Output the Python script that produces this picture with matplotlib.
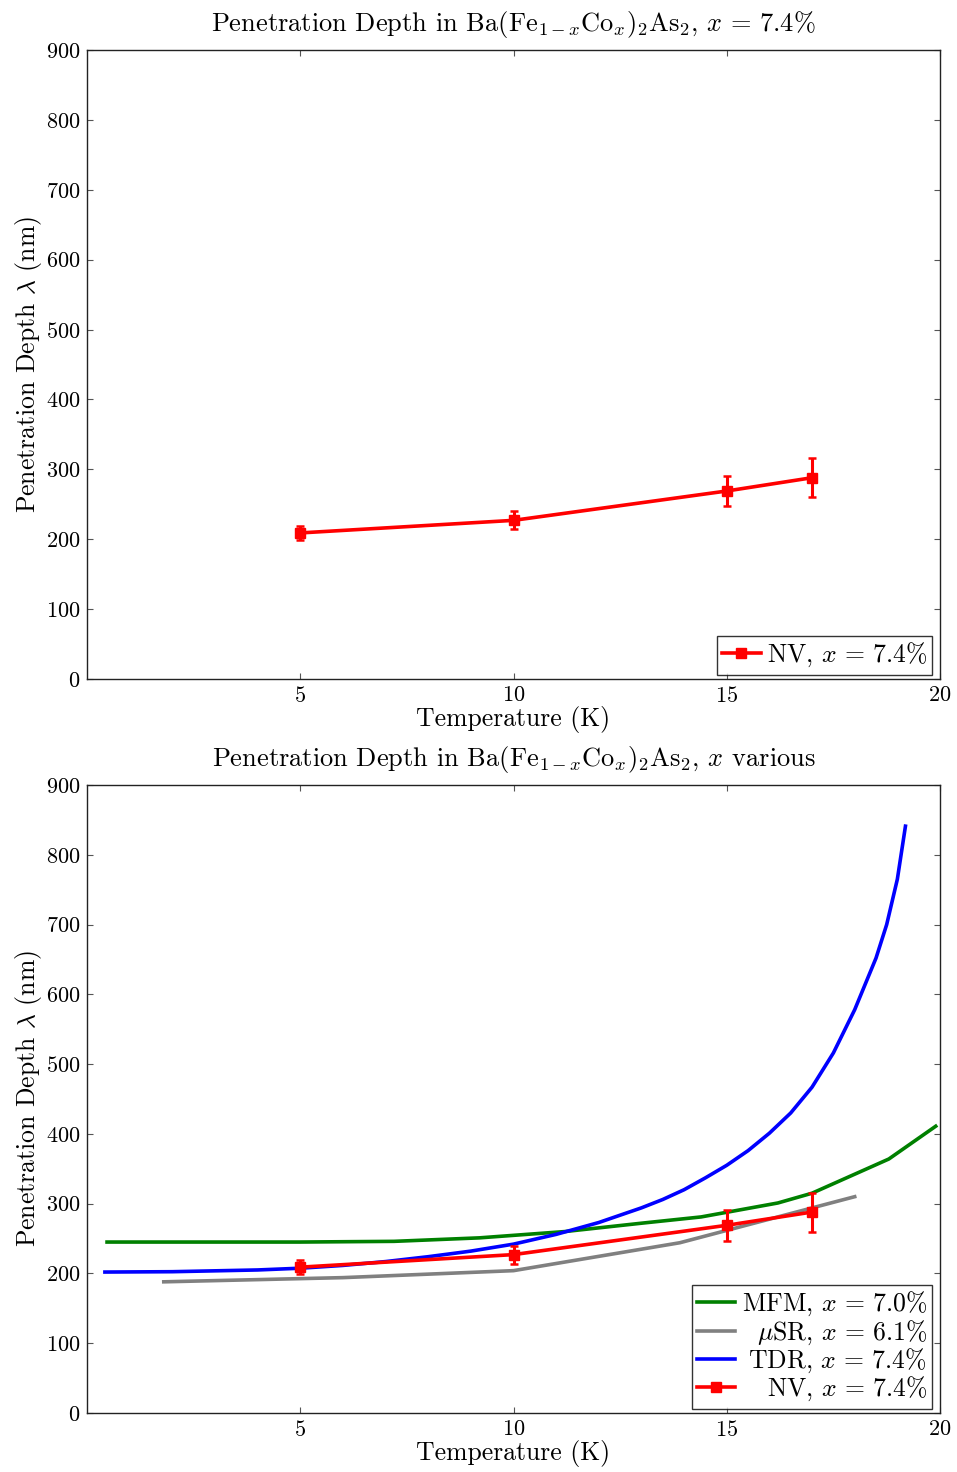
import matplotlib
matplotlib.use("Agg")
import matplotlib.pyplot as plt
from matplotlib.lines import Line2D

plt.rcParams['font.family'] = ['cmr10', 'DejaVu Serif']
plt.rcParams['mathtext.fontset'] = 'cm'
plt.rcParams['axes.formatter.use_mathtext'] = True
plt.rcParams['axes.unicode_minus'] = False

# ---- data ----
nv_T = [5, 10, 15, 17]
nv_lam = [209, 227, 269, 288]
nv_err = [10, 13, 22, 28]

mfm_T = [0.47, 5, 7.2, 9.2, 11.2, 13.0, 14.4, 16.2, 17.0, 18.8, 19.9]
mfm_lam = [245, 245, 246, 251, 260, 272, 281, 301, 315, 364, 411]

musr_T = [1.8, 6, 10.0, 13.9, 18.0]
musr_lam = [188, 194, 204, 244, 310]

tdr_T = [0.42, 2, 4, 5, 6, 7, 8, 9, 10, 11, 12, 13, 13.5, 14, 14.5, 15,
         15.5, 16, 16.5, 17, 17.5, 18, 18.5, 18.75, 19.0, 19.19]
tdr_lam = [202, 202.5, 205, 207.5, 211.5, 217, 224, 232, 242, 256, 273, 294,
           306, 320, 337, 355, 376, 401, 430, 467, 516, 578, 652, 700, 765,
           841]

xticks = [5, 10, 15, 20]
yticks = [0, 100, 200, 300, 400, 500, 600, 700, 800, 900]

eq = r"$x\,=\,%s\%%$"
compound = r"Ba(Fe$_{1-x}$Co$_x$)$_2$As$_2$"
title_top = "Penetration Depth in " + compound + ", " + eq % "7.4"
title_bot = "Penetration Depth in " + compound + r", $x$ various"

lab_mfm = "MFM, " + eq % "7.0"
lab_musr = r"$\mu$SR, " + eq % "6.1"
lab_tdr = "TDR, " + eq % "7.4"
lab_nv = "NV, " + eq % "7.4"

W, H = 957, 1472
fig = plt.figure(figsize=(W / 100, H / 100), dpi=100)
ax1 = fig.add_axes([87 / W, 1 - 679 / H, (940 - 87) / W, (679 - 50) / H])
ax2 = fig.add_axes([87 / W, 1 - 1413 / H, (940 - 87) / W, (1413 - 785) / H])

lw = 2.6
nv_handle = Line2D([], [], color='red', lw=lw, marker='s', markersize=7)


def style(ax, title):
    ax.set_xlim(0, 20)
    ax.set_ylim(0, 900)
    ax.set_xticks(xticks)
    ax.set_yticks(yticks)
    ax.tick_params(direction='in', top=True, right=True, length=4,
                   width=0.8, labelsize=16, pad=5, color='#555555')
    for s in ax.spines.values():
        s.set_linewidth(1.0)
        s.set_color('#222222')
    ax.set_xlabel("Temperature (K)", fontsize=18.5, labelpad=0)
    ax.set_ylabel(r"Penetration Depth $\lambda$ (nm)", fontsize=18.5,
                  labelpad=1)
    ax.set_title(title, fontsize=19, pad=13.5)


def nv(ax):
    ax.errorbar(nv_T, nv_lam, yerr=nv_err, color='red', lw=lw, marker='s',
                markersize=7, elinewidth=2.2, capsize=3, capthick=1.8)


legkw = dict(loc='lower right', bbox_to_anchor=(0.991, 0.007),
             fontsize=18.5, fancybox=False,
             edgecolor='black', borderpad=0.2, handlelength=1.5,
             handletextpad=0.25, borderaxespad=0.0, labelspacing=0.0)

# top
nv(ax1)
style(ax1, title_top)
leg1 = ax1.legend([nv_handle], [lab_nv], **legkw)
leg1.get_frame().set_linewidth(1.0)

# bottom
h1, = ax2.plot(mfm_T, mfm_lam, color='green', lw=lw)
h2, = ax2.plot(musr_T, musr_lam, color='gray', lw=lw)
h3, = ax2.plot(tdr_T, tdr_lam, color='blue', lw=lw)
nv(ax2)
style(ax2, title_bot)
leg2 = ax2.legend([h1, h2, h3, nv_handle],
                  [lab_mfm, lab_musr, lab_tdr, lab_nv], **legkw)
leg2.get_frame().set_linewidth(1.0)

# right-align legend labels
fig.canvas.draw()
r = fig.canvas.get_renderer()
texts = leg2.get_texts()
ws = [t.get_window_extent(r).width for t in texts]
mw = max(ws)
for t, w in zip(texts, ws):
    t.set_position((mw - w, 0))

fig.savefig("out.png", dpi=100)
